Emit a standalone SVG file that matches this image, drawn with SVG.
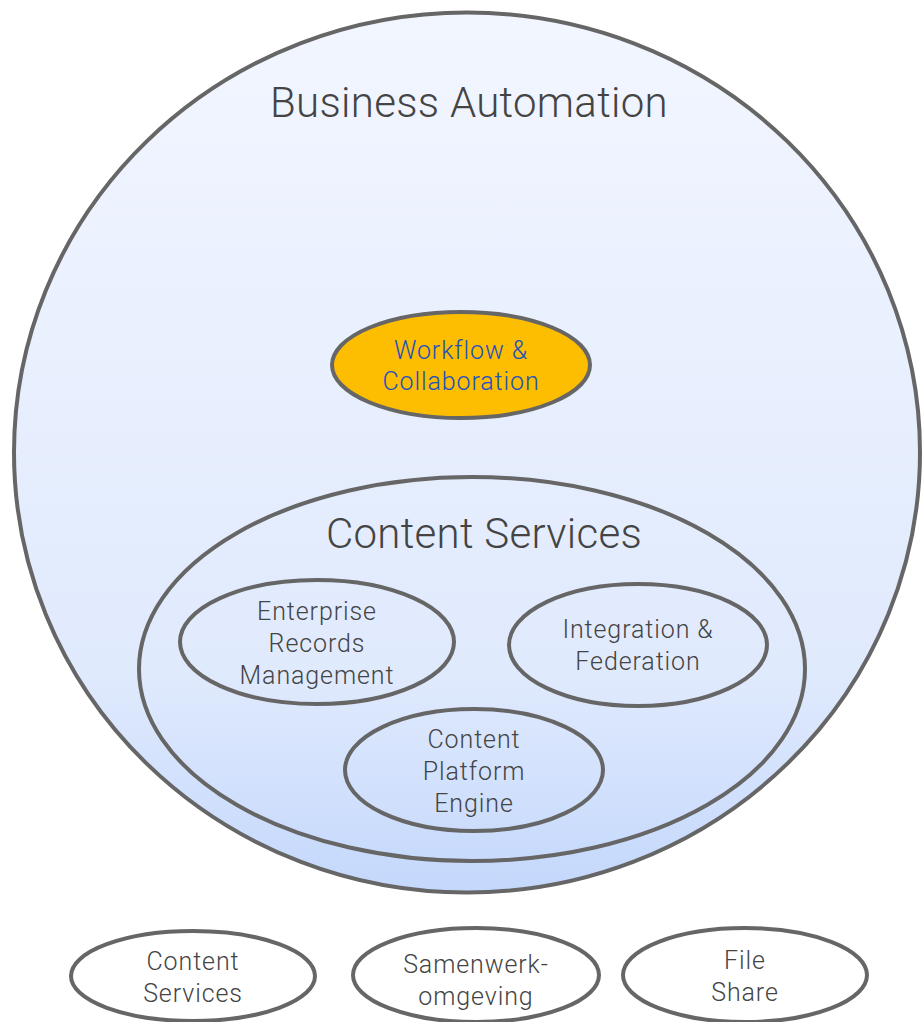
<svg xmlns="http://www.w3.org/2000/svg" width="922" height="1022" viewBox="0 0 922 1022">
<defs>
<linearGradient id="bg" x1="0" y1="0" x2="0" y2="1">
<stop offset="0" stop-color="#f2f6ff"/>
<stop offset="0.75" stop-color="#e0eafd"/>
<stop offset="1" stop-color="#c4d8fc"/>
</linearGradient>
<style>
.e{fill:none;stroke:#666;stroke-width:4}
.t{font-family:Roboto,"Liberation Sans",sans-serif;font-weight:300;fill:#444;text-anchor:middle}
.s{font-size:25px;letter-spacing:0.9px}
.l{font-size:42px;letter-spacing:0.3px}
</style>
</defs>
<rect width="922" height="1022" fill="#fff"/>
<g id="business-automation">
<ellipse cx="467" cy="452.5" rx="453" ry="440" fill="url(#bg)" stroke="#666" stroke-width="4"/>
<text class="t l" x="469" y="117">Business Automation</text>
</g>
<g id="workflow">
<ellipse cx="461" cy="365" rx="129" ry="53" fill="#fdbd00" stroke="#666" stroke-width="4"/>
<text class="t s" x="461" y="359" style="fill:#1e50c0">Workflow &amp;</text>
<text class="t s" x="461" y="390" style="fill:#1e50c0">Collaboration</text>
</g>
<g id="content-services">
<ellipse class="e" cx="472" cy="669" rx="333" ry="192"/>
<text class="t l" x="484" y="548">Content Services</text>
</g>
<g id="erm">
<ellipse class="e" cx="317" cy="642" rx="137" ry="62"/>
<text class="t s" x="317" y="620">Enterprise</text>
<text class="t s" x="317" y="652">Records</text>
<text class="t s" x="317" y="684">Management</text>
</g>
<g id="integration">
<ellipse class="e" cx="638" cy="645" rx="129" ry="61"/>
<text class="t s" x="638" y="638">Integration &amp;</text>
<text class="t s" x="638" y="670">Federation</text>
</g>
<g id="cpe">
<ellipse class="e" cx="474" cy="770" rx="129" ry="61"/>
<text class="t s" x="474" y="748">Content</text>
<text class="t s" x="474" y="780">Platform</text>
<text class="t s" x="474" y="812">Engine</text>
</g>
<g id="bottom-content-services">
<ellipse class="e" cx="193" cy="976" rx="122" ry="45"/>
<text class="t s" x="193" y="970">Content</text>
<text class="t s" x="193" y="1002">Services</text>
</g>
<g id="samenwerk">
<ellipse class="e" cx="476" cy="975" rx="123" ry="47"/>
<text class="t s" x="476" y="973">Samenwerk-</text>
<text class="t s" x="476" y="1005">omgeving</text>
</g>
<g id="fileshare">
<ellipse class="e" cx="745" cy="975" rx="122" ry="47"/>
<text class="t s" x="745" y="969">File</text>
<text class="t s" x="745" y="1001">Share</text>
</g>
<g id="connectors"></g>
</svg>
